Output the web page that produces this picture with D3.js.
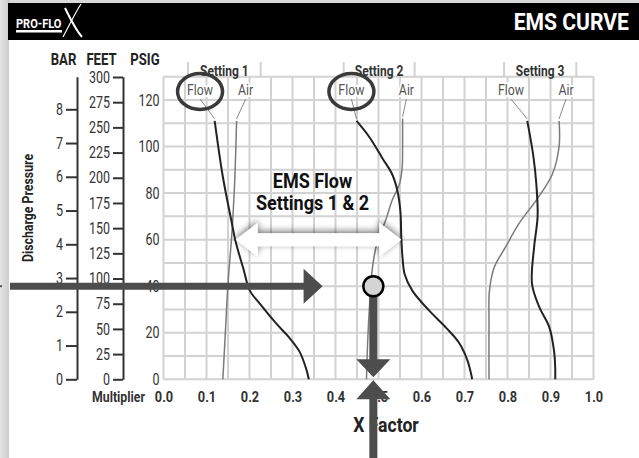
<!DOCTYPE html>
<html>
<head>
<meta charset="utf-8">
<script src="https://cdn.jsdelivr.net/npm/d3@7"></script>
<style>
  body { margin: 0; background: #fff; }
  svg { display: block; }
  text { font-family: Roboto, 'Liberation Sans', sans-serif; }
</style>
</head>
<body>
<svg id="svg" width="639" height="458"></svg>
<script>
// ---- data (x factor, psig) ----
const xTicks = [0.0, 0.1, 0.2, 0.3, 0.4, 0.5, 0.6, 0.7, 0.8, 0.9, 1.0];
const psigTicks = [0, 20, 40, 60, 80, 100, 120];
const barTicks = [0, 1, 2, 3, 4, 5, 6, 7, 8];
const feetTicks = [0, 25, 50, 75, 100, 125, 150, 175, 200, 225, 250, 275, 300];
const settingNames = ["Setting 1", "Setting 2", "Setting 3"];

const flow1 = [[0.119,111],[0.138,87],[0.158,68],[0.168,59],[0.185,48],[0.201,38],[0.224,32.5],[0.262,24],[0.292,18],[0.316,12],[0.331,5],[0.338,0]];
const air1  = [[0.170,111],[0.166,87],[0.161,68],[0.158,60],[0.150,41],[0.143,17],[0.138,0]];
const flow2 = [[0.449,111],[0.479,104],[0.509,95],[0.532,88],[0.544,81],[0.551,72],[0.553,61],[0.556,52],[0.561,45],[0.579,38],[0.618,29.5],[0.658,22],[0.688,15.5],[0.707,8],[0.718,0]];
const air2  = [[0.556,112],[0.556,101],[0.555,91],[0.549,84],[0.532,77],[0.516,68],[0.497,59],[0.486,48],[0.479,31],[0.475,17],[0.472,0]];
const flow3 = [[0.846,111],[0.860,96],[0.867,84],[0.870,70],[0.862,57],[0.857,41],[0.874,31],[0.897,22.5],[0.908,12.5],[0.911,5],[0.911,0]];
const air3  = [[0.920,111],[0.920,100],[0.904,88],[0.867,77],[0.827,67],[0.796,57],[0.769,48],[0.758,38],[0.757,25],[0.757,0]];

// label anchor (x factor) for Flow / Air text above each curve
const flowLabelX = [0.085, 0.437, 0.808];
const airLabelX  = [0.191, 0.565, 0.936];

// operating point and EMS flow range
const opPoint = { x: 0.488, psig: 40 };
const emsRange = { from: 0.168, to: 0.553, psig: 60 };

const svg = d3.select("#svg");

const x = d3.scaleLinear().domain([0, 1]).range([163.5, 593.5]);
const y = d3.scaleLinear().domain([0, 130]).range([379.3, 76.7]);
const yBar = d3.scaleLinear().domain([0, 130 / 14.5]).range(y.range());
const yFeet = d3.scaleLinear().domain([0, 130 * 2.31]).range(y.range());

// squeeze text horizontally to mimic a condensed face
function narrow(sel, s) {
  sel.each(function() {
    const t = d3.select(this);
    const tx = +t.attr("x") || 0, ty = +t.attr("y") || 0;
    t.attr("transform", `translate(${tx},${ty}) scale(${s},1) translate(${-tx},${-ty})`);
  });
}

// ---- frame ----
const defs = svg.append("defs");
const grad = defs.append("linearGradient").attr("id", "edge");
grad.append("stop").attr("offset", "0").attr("stop-color", "#e4e4e4");
grad.append("stop").attr("offset", "1").attr("stop-color", "#c9c9c9");

svg.append("rect").attr("width", 639).attr("height", 458).attr("fill", "#d9d9d9");
svg.append("rect").attr("width", 10).attr("height", 458).attr("fill", "url(#edge)");
svg.append("rect").attr("x", 9).attr("y", 3).attr("width", 630).attr("height", 455).attr("fill", "#fff");
svg.append("rect").attr("x", 8).attr("y", 3).attr("width", 631).attr("height", 37).attr("fill", "#000");

// logo
svg.append("text").attr("x", 16).attr("y", 28).attr("fill", "#fff")
  .attr("font-size", 13).attr("font-weight", "bold").text("PRO-FLO").call(narrow, 0.85);
svg.append("rect").attr("x", 16).attr("y", 30).attr("width", 46).attr("height", 2.5).attr("fill", "#fff");
svg.append("path").attr("d", "M81,4 C75,13 69,26 63,37").attr("stroke", "#fff").attr("stroke-width", 1.2).attr("fill", "none");
svg.append("path").attr("d", "M65,8 C70,18 75,29 82,37").attr("stroke", "#fff").attr("stroke-width", 2).attr("fill", "none");

svg.append("text").attr("x", 629).attr("y", 30).attr("text-anchor", "end")
  .attr("fill", "#fff").attr("font-size", 24).attr("font-weight", "bold").text("EMS CURVE").call(narrow, 0.88);

// ---- grid ----
const grid = svg.append("g").attr("stroke", "#d2d2d2").attr("stroke-width", 2);
grid.selectAll(".gx").data(d3.range(0, 21)).join("line")
  .attr("x1", d => x(d * 0.05)).attr("x2", d => x(d * 0.05))
  .attr("y1", y(130)).attr("y2", y(0));
grid.selectAll(".gy").data(d3.range(0, 14)).join("line")
  .attr("y1", d => y(d * 10)).attr("y2", d => y(d * 10))
  .attr("x1", x(0)).attr("x2", x(1));

// setting tabs
const tabs = [[0.057, 0.226], [0.419, 0.584], [0.792, 0.960]];
tabs.forEach((t, i) => {
  [t[0], t[1]].forEach(v => {
    grid.append("line").attr("x1", x(v)).attr("x2", x(v)).attr("y1", 62).attr("y2", y(130));
  });
  svg.append("text").attr("x", x((t[0] + t[1]) / 2)).attr("y", 76).attr("text-anchor", "middle")
    .attr("font-size", 15).attr("font-weight", "bold").attr("fill", "#333").text(settingNames[i])
    .call(narrow, 0.8);
});

// ---- left axes ----
function styleAxis(g) {
  g.select(".domain").attr("stroke", "#333").attr("stroke-width", 2);
  g.selectAll(".tick line").attr("stroke", "#333").attr("stroke-width", 2);
  g.selectAll(".tick text").attr("fill", "#333").attr("font-size", 16)
    .attr("font-family", "Roboto, sans-serif").call(narrow, 0.78);
}
svg.append("g").attr("transform", "translate(77,0)")
  .call(d3.axisLeft(yBar).tickValues(barTicks).tickSize(11).tickSizeOuter(0).tickPadding(3).tickFormat(d3.format("d")))
  .call(styleAxis);
svg.append("g").attr("transform", "translate(123,0)")
  .call(d3.axisLeft(yFeet).tickValues(feetTicks).tickSize(10).tickSizeOuter(0).tickPadding(3).tickFormat(d3.format("d")))
  .call(styleAxis);
svg.append("g").attr("transform", "translate(163.5,0)")
  .call(d3.axisLeft(y).tickValues(psigTicks).tickSize(0).tickPadding(4).tickFormat(d3.format("d")))
  .call(styleAxis)
  .call(g => g.select(".domain").remove());

[["BAR", 63.5], ["FEET", 101.5], ["PSIG", 145]].forEach(([t, cx]) => {
  svg.append("text").attr("x", cx).attr("y", 65).attr("text-anchor", "middle")
    .attr("font-size", 16).attr("font-weight", "bold").attr("fill", "#222").text(t).call(narrow, 0.82);
});
svg.append("text").attr("transform", "translate(33,208) rotate(-90) scale(0.88,1)").attr("text-anchor", "middle")
  .attr("font-size", 14).attr("font-weight", "bold").attr("fill", "#222").text("Discharge Pressure");

// ---- bottom axis ----
svg.append("g").attr("transform", `translate(0,${y(0)})`)
  .call(d3.axisBottom(x).tickValues(xTicks).tickSize(0).tickPadding(12).tickFormat(d3.format(".1f")))
  .call(g => g.select(".domain").remove())
  .call(g => g.selectAll(".tick text").attr("font-size", 15).attr("font-weight", "bold").attr("fill", "#333")
    .call(narrow, 0.85));
svg.append("text").attr("x", 92).attr("y", 402).attr("font-size", 14).attr("font-weight", "bold")
  .attr("fill", "#333").text("Multiplier").call(narrow, 0.88);
svg.append("text").attr("x", 386).attr("y", 432).attr("text-anchor", "middle").attr("font-size", 20)
  .attr("font-weight", "bold").attr("fill", "#222").text("X Factor").call(narrow, 0.88);

// ---- curves ----
const line = d3.line().x(d => x(d[0])).y(d => y(d[1])).curve(d3.curveCatmullRom.alpha(0.5));
const curves = [
  { data: air1, color: "#7a7a7a", w: 1.5 },
  { data: air2, color: "#7a7a7a", w: 1.5 },
  { data: air3, color: "#7a7a7a", w: 1.5 },
  { data: flow1, color: "#222", w: 2 },
  { data: flow2, color: "#222", w: 2 },
  { data: flow3, color: "#222", w: 2 }
];
svg.append("g").selectAll("path").data(curves).join("path")
  .attr("d", d => line(d.data)).attr("fill", "none")
  .attr("stroke", d => d.color).attr("stroke-width", d => d.w);

// labels and leaders
const labels = [];
flowLabelX.forEach((lx, i) => labels.push({ t: "Flow", lx, top: [flow1, flow2, flow3][i][0] }));
airLabelX.forEach((lx, i) => labels.push({ t: "Air", lx, top: [air1, air2, air3][i][0] }));
labels.forEach(l => {
  svg.append("line").attr("x1", x(l.lx)).attr("y1", 99).attr("x2", x(l.top[0])).attr("y2", y(l.top[1]) - 2)
    .attr("stroke", "#888").attr("stroke-width", 1);
  svg.append("text").attr("x", x(l.lx)).attr("y", 95).attr("text-anchor", "middle")
    .attr("font-size", 14).attr("fill", "#555")
    .attr("stroke", "#fff").attr("stroke-width", 4).attr("paint-order", "stroke").text(l.t)
    .call(narrow, 0.88);
});
flowLabelX.slice(0, 2).forEach(lx => {
  svg.append("ellipse").attr("cx", x(lx)).attr("cy", 91.5).attr("rx", 22.5).attr("ry", 18)
    .attr("fill", "none").attr("stroke", "#3a3a3a").attr("stroke-width", 3.5);
});

// ---- EMS range white double arrow ----
const sh = defs.append("filter").attr("id", "shadow").attr("x", "-20%").attr("y", "-60%").attr("width", "140%").attr("height", "220%");
sh.append("feGaussianBlur").attr("in", "SourceAlpha").attr("stdDeviation", 3.5).attr("result", "b");
sh.append("feOffset").attr("in", "b").attr("dy", -2).attr("result", "o");
sh.append("feComponentTransfer").attr("in", "o").attr("result", "s")
  .append("feFuncA").attr("type", "linear").attr("slope", 0.55);
const m = sh.append("feMerge");
m.append("feMergeNode").attr("in", "s");
m.append("feMergeNode").attr("in", "SourceGraphic");

const ax1 = x(emsRange.from), ax2 = x(emsRange.to), ay = y(emsRange.psig);
const hl = 22, hh = 17, sw = 6.5;
svg.append("path").attr("filter", "url(#shadow)").attr("fill", "#fff")
  .attr("d", `M${ax1},${ay} L${ax1 + hl},${ay - hh} L${ax1 + hl},${ay - sw} L${ax2 - hl},${ay - sw} L${ax2 - hl},${ay - hh}
              L${ax2},${ay} L${ax2 - hl},${ay + hh} L${ax2 - hl},${ay + sw} L${ax1 + hl},${ay + sw} L${ax1 + hl},${ay + hh} Z`);
svg.append("text").attr("x", (ax1 + ax2) / 2 - 6).attr("y", 188).attr("text-anchor", "middle")
  .attr("font-size", 20).attr("font-weight", "bold").attr("fill", "#111").text("EMS Flow").call(narrow, 0.9);
svg.append("text").attr("x", (ax1 + ax2) / 2 - 6).attr("y", 210).attr("text-anchor", "middle")
  .attr("font-size", 20).attr("font-weight", "bold").attr("fill", "#111").text("Settings 1 & 2").call(narrow, 0.9);

// ---- operating point arrows ----
const px = x(opPoint.x), py = y(opPoint.psig);
const ac = "#4d4d4d";
const hx = x(0.37);
svg.append("path").attr("fill", ac)
  .attr("d", `M10,${py - 3.5} L${hx - 19},${py - 3.5} L${hx - 19},${py - 17.5} L${hx},${py} L${hx - 19},${py + 17.5} L${hx - 19},${py + 3.5} L10,${py + 3.5} Z`);
svg.append("rect").attr("x", 0).attr("y", py - 1).attr("width", 2).attr("height", 2).attr("fill", "#555");
const vt = y(0) - 2;
svg.append("path").attr("fill", ac)
  .attr("d", `M${px - 4},${py} L${px + 4},${py} L${px + 4},${vt - 18} L${px + 17},${vt - 18} L${px},${vt} L${px - 17},${vt - 18} L${px - 4},${vt - 18} Z`);
const ut = y(0) + 1;
svg.append("path").attr("fill", ac)
  .attr("d", `M${px - 4},458 L${px + 4},458 L${px + 4},${ut + 19} L${px + 17},${ut + 19} L${px},${ut} L${px - 17},${ut + 19} L${px - 4},${ut + 19} Z`);
svg.append("circle").attr("cx", px).attr("cy", py).attr("r", 10)
  .attr("fill", "#d4d4d4").attr("stroke", "#000").attr("stroke-width", 2.5);
</script>
</body>
</html>
